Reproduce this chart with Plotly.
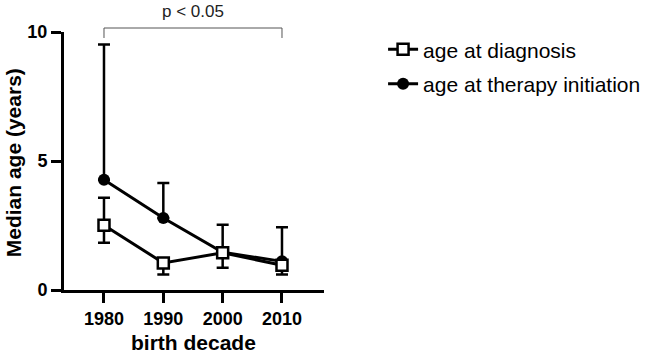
import plotly.graph_objects as go

decades = [1980, 1990, 2000, 2010]
diag_median = [2.51, 1.05, 1.44, 0.96]
diag_upper = [3.58, 1.05, 1.44, 0.96]
diag_lower = [1.83, 0.60, 0.86, 0.60]
ther_median = [4.27, 2.79, 1.46, 1.11]
ther_upper = [9.52, 4.15, 2.53, 2.43]
ther_lower = [4.27, 2.79, 1.46, 1.11]

FONT = "Arial, Liberation Sans, sans-serif"

W, H = 646, 356
ML, MR, MT, MB = 64, 322, 32, 65.5
PW, PH = W - ML - MR, H - MT - MB

def px_x(p):
    return (p - ML) / PW

def px_y(p):
    return (H - MB - p) / PH

def err(med, up, lo):
    return dict(type="data", symmetric=False,
                array=[u - m for u, m in zip(up, med)],
                arrayminus=[m - l for m, l in zip(med, lo)],
                color="black", thickness=2.5, width=6)

fig = go.Figure()
fig.add_trace(go.Scatter(
    x=decades, y=ther_median, name="age at therapy initiation",
    mode="lines+markers", legendgroup="b", legendrank=2,
    line=dict(color="black", width=3),
    marker=dict(symbol="circle", size=12, color="black"),
    error_y=err(ther_median, ther_upper, ther_lower)))
fig.add_trace(go.Scatter(
    x=decades, y=diag_median, name="age at diagnosis",
    mode="lines+markers", legendgroup="a", legendrank=1,
    line=dict(color="black", width=3),
    marker=dict(symbol="square", size=11, color="white", line=dict(color="black", width=2.5)),
    error_y=err(diag_median, diag_upper, diag_lower)))

# significance bracket
yb0, yb1 = px_y(38), px_y(28)
fig.add_shape(type="path", xref="x", yref="paper",
              path=f"M {decades[0]},{yb0} L {decades[0]},{yb1} L {decades[-1]},{yb1} L {decades[-1]},{yb0}",
              line=dict(color="#555555", width=1))
fig.add_annotation(x=(decades[0] + decades[-1]) / 2, y=px_y(11), xref="x", yref="paper",
                   yanchor="middle", text="p < 0.05", showarrow=False,
                   font=dict(family=FONT, size=17, color="#222222"))

# axis titles
fig.add_annotation(x=px_x(193.5), y=px_y(343), xref="paper", yref="paper", yanchor="middle",
                   text="<b>birth decade</b>", showarrow=False,
                   font=dict(family=FONT, size=21, color="black"))
fig.add_annotation(x=px_x(13), y=px_y(163.5), xref="paper", yref="paper",
                   xanchor="center", yanchor="middle", textangle=-90,
                   text="<b>Median age (years)</b>", showarrow=False,
                   font=dict(family=FONT, size=21, color="black"))

fig.update_layout(
    width=W, height=H,
    margin=dict(l=ML, r=MR, t=MT, b=MB, autoexpand=False),
    paper_bgcolor="white", plot_bgcolor="white",
    font=dict(family=FONT, color="black"),
    showlegend=True,
    legend=dict(xref="container", yref="container", x=0.593, y=0.918,
                xanchor="left", yanchor="top",
                font=dict(family=FONT, size=21, color="black"),
                tracegroupgap=4, bgcolor="rgba(0,0,0,0)"),
    xaxis=dict(range=[1973.26, 2017.08], tickvals=decades, ticktext=[str(d) for d in decades],
               showgrid=False, zeroline=False, showline=True, linecolor="black", linewidth=3,
               ticks="outside", ticklen=10, tickwidth=3, tickcolor="black", automargin=False,
               tickfont=dict(family=FONT, size=18, color="black", weight="bold")),
    yaxis=dict(range=[0, 10], tickvals=[0, 5, 10],
               showgrid=False, zeroline=False, showline=True, linecolor="black", linewidth=3,
               ticks="outside", ticklen=10, tickwidth=3, tickcolor="black", automargin=False,
               tickfont=dict(family=FONT, size=18, color="black", weight="bold")),
)

fig.write_html("out.html")
